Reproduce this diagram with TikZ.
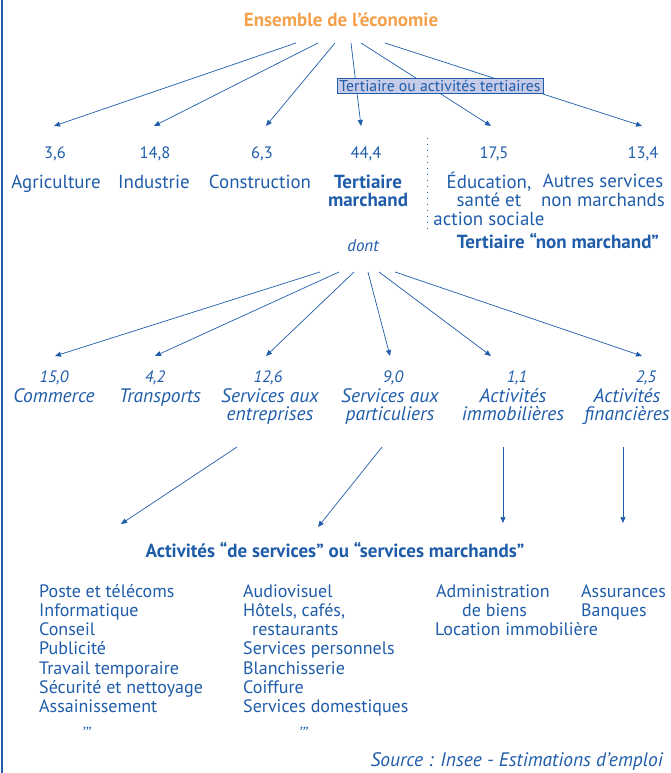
\documentclass[tikz,border=0pt]{standalone}
\usepackage{fontspec}
\setmainfont{PT Sans}
\usetikzlibrary{arrows.meta}
\definecolor{tb}{HTML}{1F5CA9}
\definecolor{orng}{HTML}{F5A04B}
\definecolor{boxfill}{HTML}{C6CBE9}
\begin{document}
\begin{tikzpicture}[x=1pt,y=-1pt,
  every node/.style={inner sep=0pt, text=tb},
  arr/.style={draw=tb, line width=0.7pt, -{Triangle[length=6pt,width=5pt]}},
  num/.style={font=\fontsize{16.5}{18}\selectfont, anchor=base},
  inum/.style={font=\fontsize{16.5}{18}\selectfont\itshape, anchor=base},
  lab/.style={font=\fontsize{18.9}{18.5}\selectfont, align=center, anchor=base},
  blab/.style={font=\fontsize{19}{18}\selectfont\bfseries, align=center, anchor=base},
  ilab/.style={font=\fontsize{19.5}{18}\selectfont\itshape, align=center, anchor=base},
  lst/.style={font=\fontsize{18}{19.3}\selectfont, align=left, anchor=base west},
  ditto/.style={font=\fontsize{16}{18}\selectfont\itshape, anchor=base}]
\useasboundingbox (0,0) rectangle (671,773);
\draw[tb, line width=1.2pt] (2,0) -- (2,773);

\node[font=\fontsize{19}{20}\selectfont\bfseries, text=orng, anchor=base] (title) at (341,27) {Ensemble de l’économie};

% top arrows
\foreach \i/\sx/\ex in {1/296/54, 2/318/154, 3/335/266, 4/351/361, 5/361/491, 6/385/642}{
  \coordinate (s\i) at (\sx,43);
  \coordinate (e\i) at (\ex,126);
}
\foreach \i in {1,...,6}{\draw[arr] (s\i) -- (e\i);}

\node[draw=tb, line width=0.8pt, fill=boxfill, minimum width=206pt, minimum height=15pt,
  font=\fontsize{15.7}{16}\selectfont] (tbox) at (440,85.5) {Tertiaire ou activités tertiaires};

% numbers row 1
\node[num] (n1) at (55,158) {3,6};
\node[num] (n2) at (155,158) {14,8};
\node[num] (n3) at (262,158) {6,3};
\node[num] (n4) at (366,158) {44,4};
\node[num] (n5) at (494,158) {17,5};
\node[num] (n6) at (643,158) {13,4};

\node[lab] (l1) at (56,188) {Agriculture};
\node[lab] (l2) at (154,188) {Industrie};
\node[lab] (l3) at (260,188) {Construction};
\node[blab] (l4) at (368,206) {Tertiaire\\marchand};
\node[lab] (l5) at (489,225) {Éducation,\\santé et\\action sociale};
\node[lab] (l6) at (603,206) {Autres services\\non marchands};

\coordinate (d1) at (427,138);
\coordinate (d2) at (427,230);
\draw[tb, line width=1pt, dash pattern=on 1pt off 5pt] (d1) -- (d2);

\node[blab] (tnm) at (558,248) {Tertiaire “non marchand”};
\node[ilab, font=\fontsize{17}{18}\selectfont\itshape] (dont) at (363,251) {dont};

% second arrows
\foreach \i/\sx/\ex in {1/320/55, 2/339/155, 3/354/266, 4/368/390, 5/379/491, 6/395/642}{
  \coordinate (t\i) at (\sx,272);
  \coordinate (f\i) at (\ex,356);
}
\foreach \i in {1,...,6}{\draw[arr] (t\i) -- (f\i);}

\node[inum] (m1) at (54,382) {15,0};
\node[inum] (m2) at (155,382) {4,2};
\node[inum] (m3) at (268,382) {12,6};
\node[inum] (m4) at (393,382) {9,0};
\node[inum] (m5) at (517,382) {1,1};
\node[inum] (m6) at (646,382) {2,5};

\node[ilab] (k1) at (54,402) {Commerce};
\node[ilab] (k2) at (160,402) {Transports};
\node[ilab] (k3) at (270,420) {Services aux\\entreprises};
\node[ilab] (k4) at (390,420) {Services aux\\particuliers};
\node[ilab] (k5) at (513,420) {Activités\\immobilières};
\node[ilab] (k6) at (627,420) {Activités\\financières};

% third arrows
\coordinate (u1) at (237,447); \coordinate (v1) at (121,524);
\coordinate (u2) at (382,447); \coordinate (v2) at (318,527);
\coordinate (u3) at (503,447); \coordinate (v3) at (503,523);
\coordinate (u4) at (623,447); \coordinate (v4) at (623,523);
\foreach \i in {1,...,4}{\draw[arr] (u\i) -- (v\i);}

\node[blab] (serv) at (335,557) {Activités “de services” ou “services marchands”};

\node[lst] (c1) at (39,712.8) {Poste et télécoms\\Informatique\\Conseil\\Publicité\\Travail temporaire\\Sécurité et nettoyage\\Assainissement};
\node[ditto] (dt1) at (86,738) {’’’};
\node[lst] (c2) at (243,712.8) {Audiovisuel\\Hôtels, cafés,\\\hspace*{9pt}restaurants\\Services personnels\\Blanchisserie\\Coiffure\\Services domestiques};
\node[ditto] (dt2) at (303,738) {’’’};
\node[lst] (c3) at (435,635.6) {\hspace*{1pt}Administration\\\hspace*{27pt}de biens\\Location immobilière};
\node[lst] (c4) at (581,616.3) {Assurances\\Banques};

\node[font=\fontsize{19.5}{20}\selectfont\itshape, anchor=base east] (src) at (663,766) {Source : Insee - Estimations d’emploi};
\end{tikzpicture}
\end{document}
